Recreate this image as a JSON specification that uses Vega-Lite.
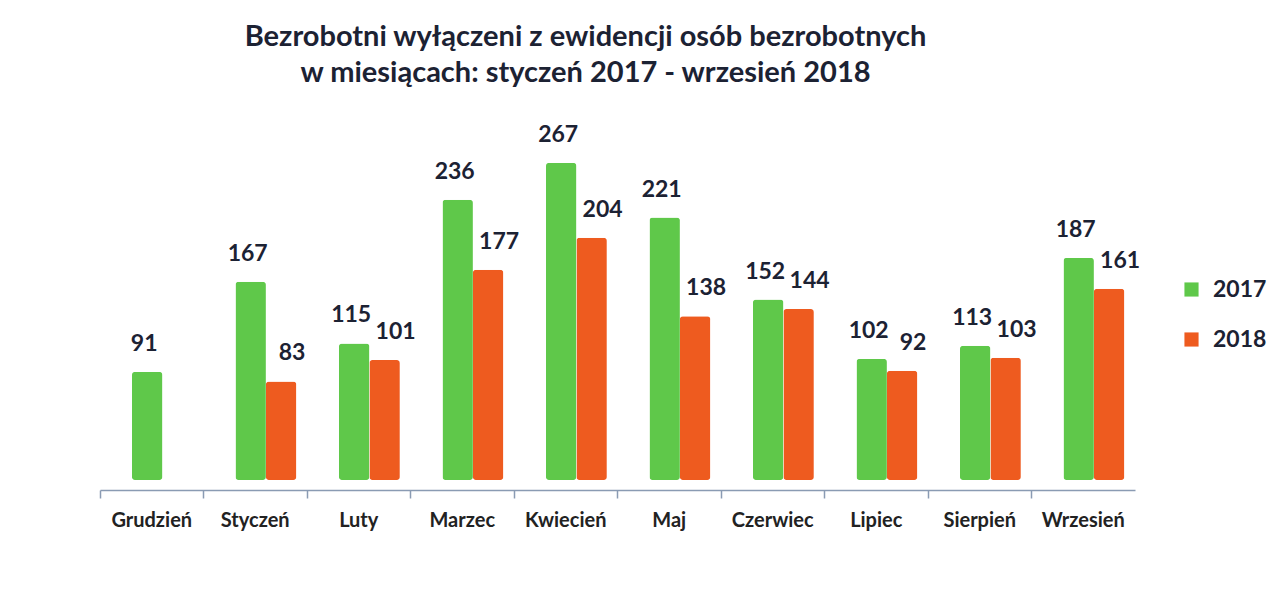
{
  "$schema": "https://vega.github.io/schema/vega-lite/v6.json",
  "autosize": {"type": "none"},
  "padding": {"left": 100, "top": 100, "right": 150, "bottom": 135},
  "width": 1035,
  "height": 380,
  "background": "#ffffff",
  "title": {
    "text": ["Bezrobotni wyłączeni z ewidencji osób bezrobotnych", "w miesiącach: styczeń 2017 - wrzesień 2018"],
    "font": "Lato",
    "fontSize": 29,
    "fontWeight": "bold",
    "color": "#1c2233",
    "lineHeight": 36,
    "anchor": "middle",
    "dx": -32,
    "offset": 12
  },
  "config": {"view": {"stroke": null}},
  "data": {
    "values": [
      {"month": "Grudzień", "year": "2017", "value": 91},
      {"month": "Styczeń", "year": "2017", "value": 167},
      {"month": "Styczeń", "year": "2018", "value": 83},
      {"month": "Luty", "year": "2017", "value": 115},
      {"month": "Luty", "year": "2018", "value": 101},
      {"month": "Marzec", "year": "2017", "value": 236},
      {"month": "Marzec", "year": "2018", "value": 177},
      {"month": "Kwiecień", "year": "2017", "value": 267},
      {"month": "Kwiecień", "year": "2018", "value": 204},
      {"month": "Maj", "year": "2017", "value": 221},
      {"month": "Maj", "year": "2018", "value": 138},
      {"month": "Czerwiec", "year": "2017", "value": 152},
      {"month": "Czerwiec", "year": "2018", "value": 144},
      {"month": "Lipiec", "year": "2017", "value": 102},
      {"month": "Lipiec", "year": "2018", "value": 92},
      {"month": "Sierpień", "year": "2017", "value": 113},
      {"month": "Sierpień", "year": "2018", "value": 103},
      {"month": "Wrzesień", "year": "2017", "value": 187},
      {"month": "Wrzesień", "year": "2018", "value": 161}
    ]
  },
  "encoding": {
    "x": {
      "field": "month",
      "type": "nominal",
      "sort": ["Grudzień", "Styczeń", "Luty", "Marzec", "Kwiecień", "Maj", "Czerwiec", "Lipiec", "Sierpień", "Wrzesień"],
      "scale": {"paddingInner": 0, "paddingOuter": 0},
      "axis": {
        "title": null,
        "labelAngle": 0,
        "labelFont": "Lato",
        "labelFontSize": 20,
        "labelFontWeight": "bold",
        "labelColor": "#222222",
        "labelPadding": 12,
        "domainColor": "#8a9bb3",
        "domainWidth": 1.5,
        "tickColor": "#8a9bb3",
        "tickWidth": 1.5,
        "tickSize": 8,
        "bandPosition": 0,
        "offset": 10
      }
    },
    "xOffset": {
      "field": "year",
      "type": "nominal",
      "scale": {"paddingInner": 0, "paddingOuter": 0.7, "align": 0.75}
    },
    "y": {
      "field": "value",
      "type": "quantitative",
      "scale": {"domain": [0, 320]},
      "axis": null
    }
  },
  "layer": [
    {
      "mark": {"type": "bar", "cornerRadius": 3},
      "encoding": {
        "color": {
          "field": "year",
          "type": "nominal",
          "scale": {"domain": ["2017", "2018"], "range": ["#5fc84a", "#ee5b1f"]},
          "legend": {
            "title": null,
            "orient": "none",
            "legendX": 1080,
            "legendY": 178,
            "symbolType": "square",
            "symbolSize": 200,
            "symbolStrokeWidth": 0,
            "rowPadding": 26,
            "labelFont": "Lato",
            "labelFontSize": 23,
            "labelFontWeight": "bold",
            "labelColor": "#1c2233",
            "labelOffset": 10
          }
        }
      }
    },
    {
      "transform": [{"filter": "datum.year === '2017'"}],
      "mark": {
        "type": "text",
        "font": "Lato",
        "fontSize": 23,
        "fontWeight": "bold",
        "color": "#1c2233",
        "baseline": "middle",
        "dy": -28,
        "dx": -3
      },
      "encoding": {"text": {"field": "value", "type": "quantitative"}}
    },
    {
      "transform": [{"filter": "datum.year === '2018'"}],
      "mark": {
        "type": "text",
        "font": "Lato",
        "fontSize": 23,
        "fontWeight": "bold",
        "color": "#1c2233",
        "baseline": "middle",
        "dy": -28,
        "dx": 11
      },
      "encoding": {"text": {"field": "value", "type": "quantitative"}}
    }
  ]
}
